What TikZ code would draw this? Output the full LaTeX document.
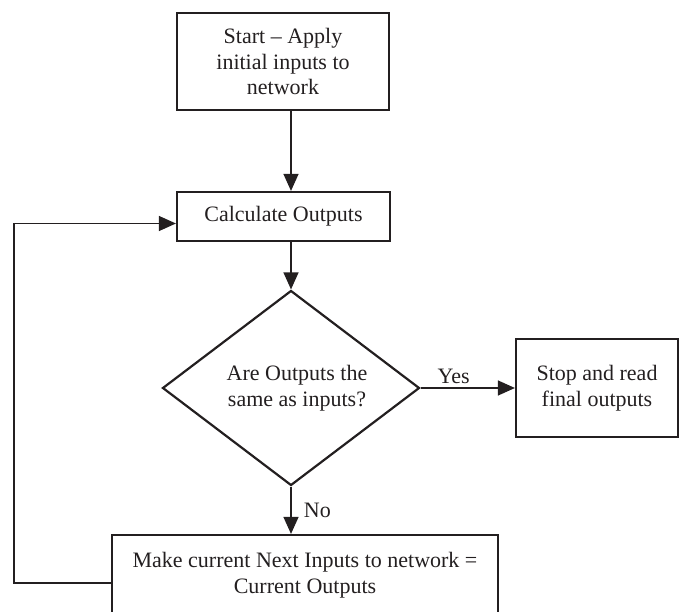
\documentclass[tikz,border=0pt]{standalone}
\usepackage{fontspec}
\setmainfont{Liberation Serif}
\usetikzlibrary{shapes.geometric,arrows.meta}
\definecolor{ink}{RGB}{35,31,32}
\begin{document}
\begin{tikzpicture}[x=1pt, y=-1pt, >={Triangle[length=17pt,width=15pt]},
    font=\fontsize{22}{25.5}\selectfont,
    box/.style={draw=ink, text=ink, line width=2.2pt, align=center, inner sep=0pt},
    flow/.style={->, draw=ink, line width=1.3pt}]
    % Rahmen
    \clip (0,0) rectangle (680,612);

    % Kaesten
    \node[box, minimum width=212pt, minimum height=97pt] (start) at (283,61.5)
        {Start – Apply\\initial inputs to\\network};
    \node[box, minimum width=213pt, minimum height=49pt] (calc) at (283.5,216.5)
        {Calculate Outputs};
    \node[box, shape=diamond, aspect=1.32, minimum width=257pt, minimum height=195pt] (dec) at (291,388)
        {\hspace*{12pt}Are Outputs the\\\hspace*{12pt}same as inputs?};
    \node[box, minimum width=162pt, minimum height=98pt] (stop) at (597,388)
        {Stop and read\\final outputs};
    \node[box, minimum width=386pt, minimum height=80pt] (make) at (305,575)
        {Make current Next Inputs to network =\\Current Outputs};

    % Pfeile
    \draw[flow] (start.south -| dec.north) -- (calc.north -| dec.north);
    \draw[flow] (calc.south -| dec.north) -- (dec.north);
    \draw[flow] (dec.east) -- node[above, pos=0.35, text=ink] {Yes} (stop.west);
    \draw[flow] (dec.south) -- node[right, xshift=9pt, text=ink] {No} (dec.south |- make.north);

    % Rueckfuehrung
    \coordinate (turn) at (14,400);
    \draw[flow] ([yshift=-8pt]make.west) -| (turn) |- ([yshift=-7pt]calc.west);
\end{tikzpicture}
\end{document}
